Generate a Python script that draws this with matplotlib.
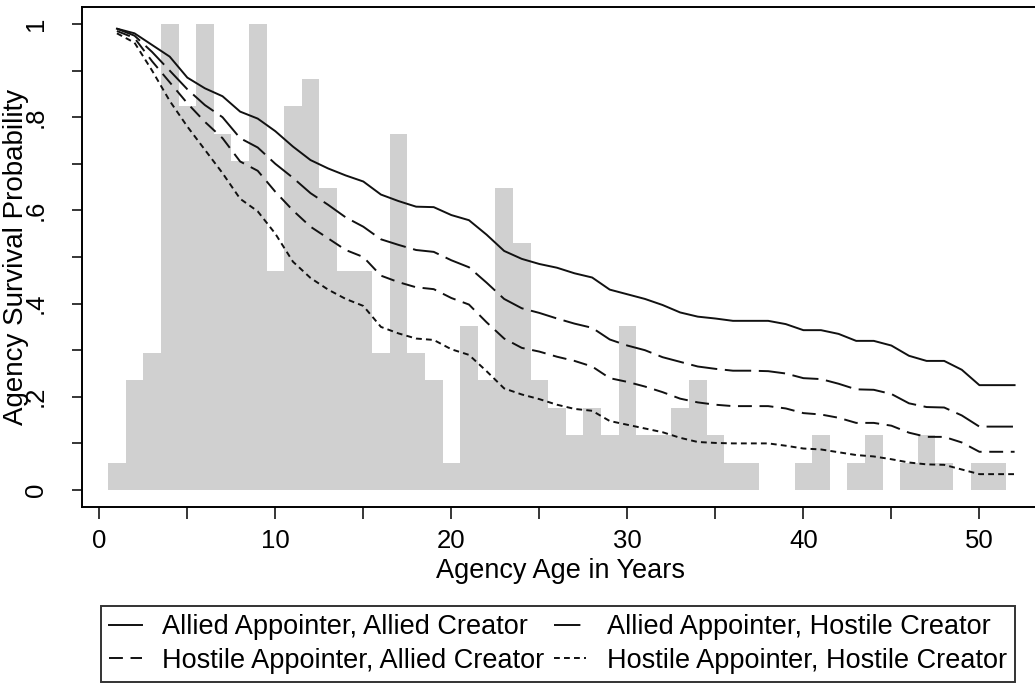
import matplotlib
matplotlib.use('Agg')
import matplotlib.pyplot as plt
import numpy as np

plt.rcParams['font.family'] = ['Liberation Sans', 'DejaVu Sans']
plt.rcParams['lines.scale_dashes'] = False

# ---- data ----
ages = list(range(1, 52))
hist_counts = [1, 4, 5, 17, 14, 17, 13, 12, 17, 8,
               14, 15, 11, 8, 8, 5, 13, 5, 4, 1,
               6, 4, 11, 9, 4, 3, 2, 3, 2, 6,
               2, 2, 3, 4, 2, 1, 1, 0, 0, 1,
               2, 0, 1, 2, 0, 1, 2, 1, 0, 1, 1]

years = list(range(1, 53))
surv_allied_allied = [0.99, 0.98, 0.955, 0.93, 0.885, 0.862, 0.845, 0.812, 0.797, 0.77,
                      0.737, 0.708, 0.69, 0.675, 0.662, 0.634, 0.62, 0.608, 0.607, 0.59,
                      0.579, 0.548, 0.513, 0.496, 0.485, 0.477, 0.465, 0.456, 0.43, 0.42,
                      0.41, 0.397, 0.381, 0.372, 0.368, 0.363, 0.363, 0.363, 0.356, 0.343,
                      0.343, 0.335, 0.32, 0.32, 0.31, 0.288, 0.277, 0.277, 0.258, 0.225,
                      0.225, 0.225]
surv_allied_hostile = [0.99, 0.975, 0.94, 0.90, 0.86, 0.826, 0.80, 0.755, 0.735, 0.70,
                       0.67, 0.637, 0.612, 0.585, 0.565, 0.538, 0.526, 0.515, 0.511, 0.493,
                       0.478, 0.445, 0.41, 0.39, 0.38, 0.368, 0.357, 0.348, 0.323, 0.31,
                       0.30, 0.285, 0.275, 0.265, 0.26, 0.256, 0.256, 0.255, 0.25, 0.24,
                       0.238, 0.228, 0.216, 0.215, 0.206, 0.186, 0.178, 0.177, 0.16, 0.136,
                       0.136, 0.136]
surv_hostile_allied = [0.985, 0.97, 0.92, 0.875, 0.83, 0.79, 0.755, 0.705, 0.685, 0.64,
                       0.60, 0.565, 0.54, 0.515, 0.50, 0.46, 0.446, 0.435, 0.431, 0.412,
                       0.398, 0.36, 0.325, 0.305, 0.297, 0.286, 0.277, 0.265, 0.24, 0.232,
                       0.222, 0.21, 0.196, 0.188, 0.183, 0.18, 0.18, 0.18, 0.175, 0.165,
                       0.162, 0.155, 0.144, 0.144, 0.138, 0.123, 0.114, 0.114, 0.102, 0.082,
                       0.082, 0.082]
surv_hostile_hostile = [0.98, 0.96, 0.90, 0.835, 0.78, 0.73, 0.68, 0.625, 0.598, 0.55,
                        0.49, 0.455, 0.43, 0.41, 0.395, 0.35, 0.336, 0.325, 0.322, 0.302,
                        0.29, 0.255, 0.218, 0.205, 0.195, 0.183, 0.174, 0.17, 0.148, 0.14,
                        0.132, 0.124, 0.112, 0.103, 0.101, 0.10, 0.10, 0.10, 0.095, 0.089,
                        0.087, 0.081, 0.075, 0.072, 0.066, 0.059, 0.055, 0.054, 0.044, 0.034,
                        0.034, 0.034]

labels = ["Allied Appointer, Allied Creator",
          "Allied Appointer, Hostile Creator",
          "Hostile Appointer, Allied Creator",
          "Hostile Appointer, Hostile Creator"]

x_major = [0, 10, 20, 30, 40, 50]
x_minor = [5, 15, 25, 35, 45]
y_major = [0, 0.2, 0.4, 0.6, 0.8, 1.0]
y_major_labels = ["0", ".2", ".4", ".6", ".8", "1"]
y_minor = [0.1, 0.3, 0.5, 0.7, 0.9]

# ---- figure ----
fig = plt.figure(figsize=(10.35, 6.87), dpi=100)
W, H = 1035, 687
ax_l, ax_r, ax_t, ax_b = 82, 1038, 7, 507
ax = fig.add_axes([ax_l / W, 1 - ax_b / H, (ax_r - ax_l) / W, (ax_b - ax_t) / H])

heights = np.array(hist_counts, dtype=float) / max(hist_counts)
ax.bar(ages, heights, width=1.0, color='#d0d0d0', linewidth=0, zorder=1)

lc = '#111111'
lw = 1.4
l_aa, = ax.plot(years, surv_allied_allied, color=lc, lw=lw, linestyle='-', zorder=3)
l_ah, = ax.plot(years, surv_allied_hostile, color=lc, lw=lw, linestyle=(0, (19, 5.5)), zorder=3)
l_ha, = ax.plot(years, surv_hostile_allied, color=lc, lw=lw, linestyle=(0, (10, 5.5)), zorder=3)
l_hh, = ax.plot(years, surv_hostile_hostile, color=lc, lw=lw, linestyle=(0, (4.2, 3.0)), zorder=3)

ax.set_xlim(-0.983, 53.33)
ax.set_ylim(-0.0365, 1.0365)

ax.set_xticks(x_major)
ax.set_xticks(x_minor, minor=True)
ax.set_yticks(y_major)
ax.set_yticklabels(y_major_labels)
ax.set_yticks(y_minor, minor=True)

for s in ax.spines.values():
    s.set_linewidth(1.4)
    s.set_color('black')

ax.tick_params(axis='x', which='both', length=8.5, width=1.1, direction='out',
               labelsize=18.5, pad=7)
ax.tick_params(axis='y', which='both', length=7.5, width=1.1, direction='out',
               labelsize=18.5, pad=17, labelrotation=90)
for t in ax.get_yticklabels():
    t.set_va('center')

ax.set_xlabel("Agency Age in Years", fontsize=19.5)
ax.xaxis.set_label_coords(0.5, -0.103)
ax.set_ylabel("Agency Survival Probability", fontsize=20)
ax.yaxis.set_label_coords(-0.055, 0.5)

# legend: row-major order as in the original (matplotlib fills column-major)
handles = [l_aa, l_ha, l_ah, l_hh]
lbls = [labels[0], labels[2], labels[1], labels[3]]
leg = fig.legend(handles, lbls, ncol=2, loc='center',
                 bbox_to_anchor=(558 / W, 1 - 644 / H),
                 fontsize=19.5, frameon=True, fancybox=False,
                 edgecolor='black', handlelength=1.2, handletextpad=0.75,
                 columnspacing=0.35, labelspacing=0.27, borderpad=0.32,
                 borderaxespad=0)
leg.get_frame().set_linewidth(1.4)

fig.savefig('out.png', dpi=100)
